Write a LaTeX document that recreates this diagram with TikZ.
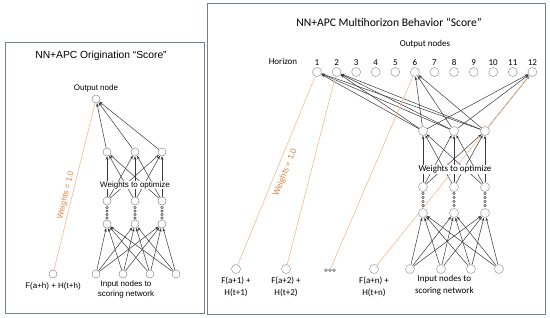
\documentclass[tikz,border=0pt]{standalone}
\usepackage{fontspec}
\usepackage{xcolor}
\usepackage{tikz}
\usetikzlibrary{arrows.meta, positioning, calc, backgrounds}
\newfontfamily\helvfont{Liberation Sans}
\newfontfamily\calfont{Carlito}
\definecolor{paneledge}{RGB}{118,126,150}
\definecolor{apcline}{RGB}{240,186,150}
\definecolor{apctext}{RGB}{226,128,60}
\tikzset{
  nnunit/.style={circle, draw=black!45, fill=white, minimum size=8pt,
    inner sep=0pt, line width=0.5pt},
  nnunitr/.style={nnunit, draw=black!40, minimum size=9pt},
  nndot/.style={circle, draw=black!70, fill=white, minimum size=2.6pt,
    inner sep=0pt, line width=0.5pt},
  nnflow/.style={-{Stealth[length=3.6pt,width=2.6pt]}, draw=black!78,
    line width=0.5pt},
  apcflow/.style={draw=apcline, line width=0.6pt},
  apclabel/.style={text=apctext, inner sep=1pt, anchor=center, sloped},
  nnlbl/.style={inner sep=1pt, align=center},
  wlbl/.style={fill=white, inner sep=0.6pt},
  panel/.style={draw=paneledge, line width=0.8pt},
}

\begin{document}
\begin{tikzpicture}[x=1pt, y=-1pt]
\useasboundingbox (0,0) rectangle (550,317);

% the two panels
\draw[panel] (5,42) rectangle (204,313);
\draw[panel] (207,3) rectangle (545,314);

% ---------- left: origination score ----------
\begin{scope}[font=\helvfont\fontsize{8}{9.5}\selectfont]
\node[font=\helvfont\fontsize{10.3}{12}\selectfont] (Ltitle) at (101,56)
  {NN+APC Origination “Score”};

\node[nnunit] (Lout) at (96,99) {};
\node[nnlbl, above=1.5pt of Lout] (Loutlbl) {Output node};

\foreach \x [count=\i] in {107,135,162} {
  \node[nnunit] (Lh\i) at (\x,152) {};
  \node[nnunit] (Lg\i) at (\x,201) {};
  \node[nnunit] (Lc\i) at (\x,224) {};
  \foreach \y in {207.5,211,214.5,218}
    \node[nndot, minimum size=2.4pt] at (\x,\y) {};
}
\foreach \x [count=\i] in {96,123,150,176}
  \node[nnunit] (Lin\i) at (\x,274) {};
\node[nnunit] (Lf) at (53,274) {};

\begin{scope}[on background layer]
\foreach \i in {1,2,3} {
  \draw[nnflow] (Lh\i) -- (Lout);
  \foreach \j in {1,2,3}
    \draw[nnflow] (Lg\j) -- (Lh\i);
  \foreach \j in {1,...,4}
    \draw[nnflow] (Lin\j) -- (Lc\i);
}
\end{scope}
\node[wlbl] (Lwopt) at (135,185) {Weights to optimize};

\draw[apcflow] (Lf) -- (Lout);
\path ($(Lf)+(-6.5,0)$) -- ($(Lout)+(-6.5,0)$)
  node[apclabel, pos=0.45] (Lw1) {Weights = 1.0};

\node[nnlbl, below=3pt of Lf] (Lflbl) {F(a+h) + H(t+h)};
\node[nnlbl, below=2pt of Lin2.south east, anchor=north,
  font=\helvfont\fontsize{8}{10}\selectfont] (Linlbl)
  {Input nodes to\\scoring network};
\end{scope}

% ---------- right: multihorizon behavior score ----------
\begin{scope}[font=\calfont\fontsize{9}{11.5}\selectfont]
\node[font=\calfont\fontsize{11.6}{13}\selectfont] (Rtitle) at (389,22)
  {NN+APC Multihorizon Behavior “Score”};
\node (Routlbl) at (425,44) {Output nodes};
\node (Rhor) at (283,61) {Horizon};

\foreach \i in {1,...,12}
  \node[nnunitr, label={[inner sep=1pt, label distance=0.8pt]above:\i}]
    (Ro\i) at ({317+(\i-1)*19.58},72) {};

\foreach \x [count=\i] in {423,454,485} {
  \node[nnunitr] (Rh\i) at (\x,131) {};
  \node[nnunitr] (Rg\i) at (\x,187) {};
  \node[nnunitr] (Rc\i) at (\x,213) {};
  \foreach \y in {193.5,197.5,201.5,205.5}
    \node[nndot] at (\x,\y) {};
}
\foreach \x [count=\i] in {410,441,471,499}
  \node[nnunitr] (Rin\i) at (\x,269) {};

\node[nnunitr] (Rf1) at (236,269) {};
\node[nnunitr] (Rf2) at (286,269) {};
\node[nnunitr] (Rfn) at (374,269) {};
\node[inner sep=0pt, minimum size=3pt] (Rmore) at (330,270) {};
\foreach \dx in {-4,0,4}
  \node[nndot, minimum size=2.8pt] at ([xshift=\dx pt]Rmore) {};

\begin{scope}[on background layer]
\foreach \i in {1,2,3} {
  \foreach \o in {1,2,6,12}
    \draw[nnflow] (Rh\i) -- (Ro\o);
  \foreach \j in {1,2,3}
    \draw[nnflow] (Rg\j) -- (Rh\i);
  \foreach \j in {1,...,4}
    \draw[nnflow] (Rin\j) -- (Rc\i);
}
\draw[apcflow] (Rf2) -- (Ro2);
\draw[apcflow] (Rmore) -- (Ro6);
\draw[apcflow] (Rfn) -- (Ro12);
\end{scope}
\node[wlbl] (Rwopt) at (455,169) {Weights to optimize};

\draw[apcflow] (Rf1) -- (Ro1);
\path ($(Rf1)+(9.5,0)$) -- ($(Ro1)+(9.5,0)$)
  node[apclabel, pos=0.49] (Rw1) {Weights = 1.0};

\node[nnlbl, below=2pt of Rf1] (Rf1lbl) {F(a+1) +\\H(t+1)};
\node[nnlbl, below=2pt of Rf2] (Rf2lbl) {F(a+2) +\\H(t+2)};
\node[nnlbl, below=2pt of Rfn] (Rfnlbl) {F(a+n) +\\H(t+n)};
\node[nnlbl, below=2pt of Rin2.south east, anchor=north] (Rinlbl)
  {Input nodes to\\scoring network};
\end{scope}
\end{tikzpicture}
\end{document}
